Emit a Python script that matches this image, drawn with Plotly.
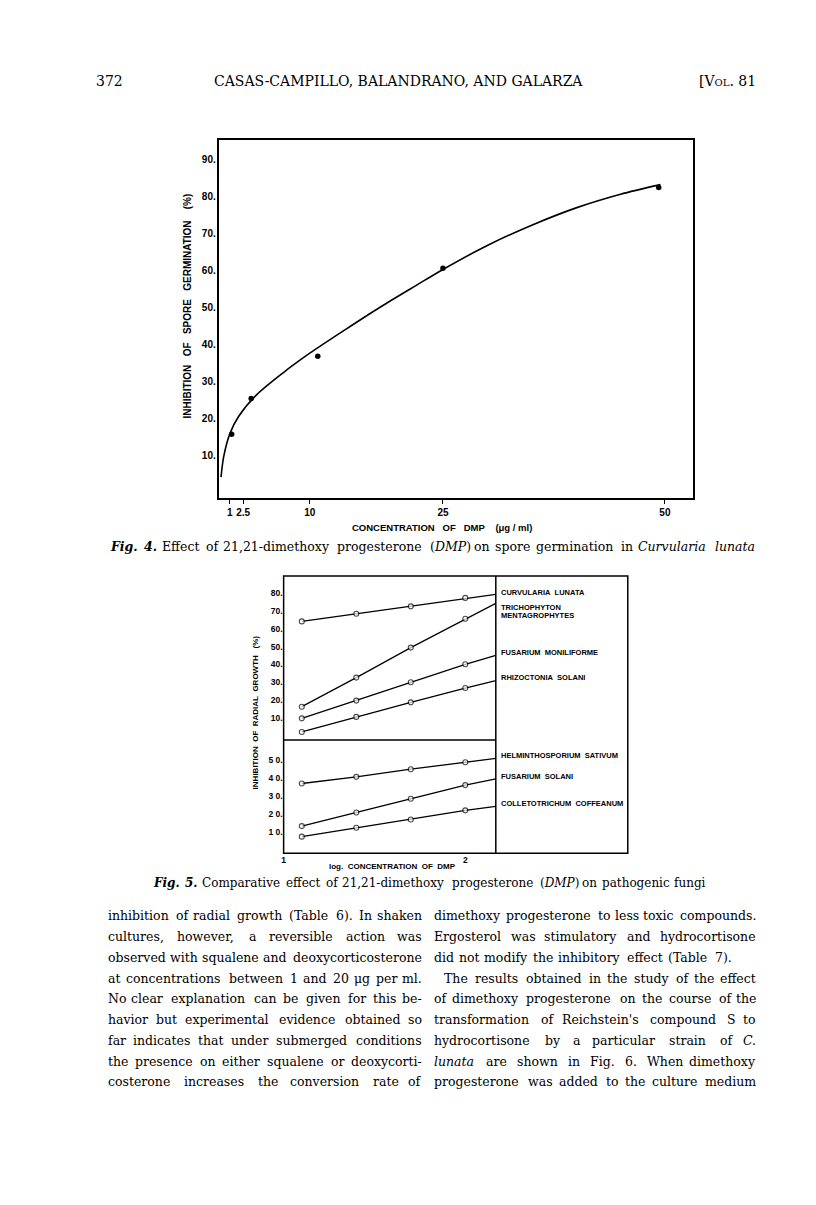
import re
import plotly.graph_objects as go

W, H = 816, 1205
OFF = 8  # the page body margin shifts the plot div

# ---- Fig. 4: inhibition of spore germination (Curvularia lunata) ----
dmp_ug_ml = [1.2, 3.4, 10.9, 25.0, 49.3]
spore_inhibition = [15.6, 25.3, 36.8, 60.6, 82.5]
# hand drawn curve through the points
curve_ug_ml = [0, 0.3, 1, 2, 4, 7, 10, 14, 18, 22, 25, 30, 35, 40, 45, 49.5]
curve_inhibition = [4, 9.5, 15.8, 20.5, 26.3, 32.3, 37.6, 44.0, 50.2, 56.0, 60.3, 66.8, 72.3, 77.0, 80.7, 83.3]
fig4_xtick_vals = [1, 2.5, 10, 25, 50]
fig4_xtick_text = ["1", "2.5", "10", "25", "50"]
fig4_ytick_vals = [10, 20, 30, 40, 50, 60, 70, 80, 90]

# ---- Fig. 5: inhibition of radial growth vs log concentration ----
log_conc = [1.1, 1.4, 1.7, 2.0]
log_conc_edge = 2.168  # lines run on to the divider
upper_fungi = ["CURVULARIA  LUNATA", "TRICHOPHYTON", "MENTAGROPHYTES", "FUSARIUM  MONILIFORME", "RHIZOCTONIA  SOLANI"]
upper_growth = [
    [64.0, 68.3, 72.4, 77.1],
    [16.5, 32.7, 49.4, 65.5],
    [10.0, 19.9, 30.1, 40.1],
    [2.4, 10.8, 18.9, 26.9],
]
upper_growth_edge = [79.1, 74.1, 45.1, 31.0]
lower_fungi = ["HELMINTHOSPORIUM  SATIVUM", "FUSARIUM  SOLANI", "COLLETOTRICHUM  COFFEANUM"]
lower_growth = [
    [37.0, 40.7, 45.0, 48.9],
    [13.2, 20.8, 28.5, 36.1],
    [7.3, 12.3, 16.9, 22.0],
]
lower_growth_edge = [51.0, 39.6, 24.2]
upper_yticks = [10, 20, 30, 40, 50, 60, 70, 80]
lower_yticks = [10, 20, 30, 40, 50]
fig5_xticks = [1, 2]

# ---- page text ----
header_title = "CASAS-CAMPILLO, BALANDRANO, AND GALARZA"
caption4 = ("<b><i>Fig.</i></b> <b><i>4.</i></b> Effect of 21,21-dimethoxy progesterone "
            "(<i>DMP</i>) on spore germination in <i>Curvularia</i> <i>lunata</i>")
caption5 = ("<b><i>Fig.</i></b> <b><i>5.</i></b> Comparative effect of 21,21-dimethoxy "
            "progesterone (<i>DMP</i>) on pathogenic fungi")
left_column = [
    "inhibition of radial growth (Table 6). In shaken",
    "cultures, however, a reversible action was",
    "observed with squalene and deoxycorticosterone",
    "at concentrations between 1 and 20 μg per ml.",
    "No clear explanation can be given for this be-",
    "havior but experimental evidence obtained so",
    "far indicates that under submerged conditions",
    "the presence on either squalene or deoxycorti-",
    "costerone increases the conversion rate of",
]
right_column = [
    "dimethoxy progesterone to less toxic compounds.",
    "Ergosterol was stimulatory and hydrocortisone",
    "did not modify the inhibitory effect (Table 7).",
    "The results obtained in the study of the effect",
    "of dimethoxy progesterone on the course of the",
    "transformation of Reichstein's compound S to",
    "hydrocortisone by a particular strain of <i>C.</i>",
    "<i>lunata</i> are shown in Fig. 6. When dimethoxy",
    "progesterone was added to the culture medium",
]

SERIF = "DejaVu Serif"
SANS = "Liberation Sans"
BODY = 12.5

# rough DejaVu Serif advance widths (em)
WIDTHS = {' ': .318, 'a': .596, 'b': .640, 'c': .560, 'd': .640, 'e': .592, 'f': .370, 'g': .640,
          'h': .644, 'i': .320, 'j': .310, 'k': .606, 'l': .320, 'm': .948, 'n': .644, 'o': .602,
          'p': .640, 'q': .640, 'r': .478, 's': .513, 't': .402, 'u': .644, 'v': .565, 'w': .856,
          'x': .564, 'y': .565, 'z': .527, '.': .318, ',': .318, '(': .390, ')': .390, '-': .338,
          "'": .275, 'μ': .644, 'I': .40}


def px(x):
    return (x - OFF) / W


def py(y):
    return 1 - (y - OFF) / H


def text_width(s, size):
    scale = 1.04
    if "<b>" in s:
        scale *= 1.12
    elif "<i>" in s:
        scale *= 1.03
    s = re.sub(r"<[^>]+>", "", s)
    total = 0
    for ch in s:
        if ch in WIDTHS:
            total += WIDTHS[ch]
        elif ch.isdigit():
            total += .636
        elif ch.isupper():
            total += .73
        else:
            total += .6
    return total * size * scale


annotations = []


def justify(line, left, right, y, size=BODY, indent=0, ragged=False):
    words = line.split(" ")
    widths = [text_width(w, size) for w in words]
    if ragged or len(words) == 1:
        gap = text_width(" ", size)
    else:
        gap = (right - left - indent - sum(widths)) / (len(words) - 1)
    x = left + indent
    for i, (w, wd) in enumerate(zip(words, widths)):
        last = i == len(words) - 1 and not ragged and len(words) > 1
        annotations.append(dict(
            x=px(right) if last else px(x), y=py(y), xref="paper", yref="paper",
            xanchor="right" if last else "left", yanchor="middle", text=w, showarrow=False,
            borderpad=0, font=dict(family=SERIF, size=size, color="black"),
        ))
        x += wd + gap


def label(text, x, y, size=8, anchor="left", angle=0):
    annotations.append(dict(
        x=px(x), y=py(y), xref="paper", yref="paper", xanchor=anchor, yanchor="middle",
        text=text.replace(" ", "\u00a0"), showarrow=False, textangle=angle, borderpad=0,
        font=dict(family=SANS, size=size, color="black", weight="bold"),
    ))


fig = go.Figure()

# Fig. 4 traces
fig.add_trace(go.Scatter(
    x=curve_ug_ml, y=curve_inhibition, mode="lines",
    line=dict(color="black", width=1.6, shape="spline", smoothing=0.8),
    xaxis="x", yaxis="y", hoverinfo="skip",
))
fig.add_trace(go.Scatter(
    x=dmp_ug_ml, y=spore_inhibition, mode="markers",
    marker=dict(color="black", size=5.5), xaxis="x", yaxis="y",
))

# Fig. 5 traces
for vals, edge in zip(upper_growth, upper_growth_edge):
    fig.add_trace(go.Scatter(
        x=log_conc + [log_conc_edge], y=vals + [edge], mode="lines+markers",
        line=dict(color="black", width=1.3),
        marker=dict(size=[5] * 4 + [0], color="white", line=dict(color="black", width=[1.1] * 4 + [0])),
        xaxis="x2", yaxis="y2", cliponaxis=False,
    ))
for vals, edge in zip(lower_growth, lower_growth_edge):
    fig.add_trace(go.Scatter(
        x=log_conc + [log_conc_edge], y=vals + [edge], mode="lines+markers",
        line=dict(color="black", width=1.3),
        marker=dict(size=[5] * 4 + [0], color="white", line=dict(color="black", width=[1.1] * 4 + [0])),
        xaxis="x3", yaxis="y3", cliponaxis=False,
    ))

tick_font = dict(family=SANS, size=10, color="black", weight="bold")
small_tick_font = dict(family=SANS, size=8.5, color="black", weight="bold")
x5_dom = [px(282.3), px(495)]

fig.update_layout(
    width=W, height=H, autosize=False, margin=dict(l=0, r=0, t=0, b=0),
    paper_bgcolor="white", plot_bgcolor="white", showlegend=False,
    xaxis=dict(domain=[px(218), px(693)], range=[-0.17, 53.2], anchor="y",
               showline=True, mirror=True, linecolor="black", linewidth=1.5,
               showgrid=False, zeroline=False, ticks="outside", ticklen=4, tickwidth=1.2,
               tickcolor="black", tickvals=fig4_xtick_vals, ticktext=fig4_xtick_text, tickfont=tick_font),
    yaxis=dict(domain=[py(498), py(140)], range=[-1.65, 95.4], anchor="x",
               showline=True, mirror=True, linecolor="black", linewidth=1.5,
               showgrid=False, zeroline=False, ticks="",
               tickvals=fig4_ytick_vals, ticktext=[f"{v}." for v in fig4_ytick_vals], tickfont=tick_font),
    xaxis2=dict(domain=x5_dom, range=[1, log_conc_edge], anchor="y2", visible=False),
    yaxis2=dict(domain=[py(740), py(576)], range=[-2.06, 89.3], anchor="x2",
                showline=False, showgrid=False, zeroline=False, ticks="",
                tickvals=upper_yticks, ticktext=[f"{v}." for v in upper_yticks], tickfont=small_tick_font),
    xaxis3=dict(domain=x5_dom, range=[1, log_conc_edge], anchor="y3",
                showline=False, showgrid=False, zeroline=False, ticks="",
                tickvals=fig5_xticks, ticktext=[str(v) for v in fig5_xticks], tickfont=small_tick_font),
    yaxis3=dict(domain=[py(853.3), py(740)], range=[-2.0, 61.3], anchor="x3",
                showline=False, showgrid=False, zeroline=False, ticks="",
                tickvals=lower_yticks, ticktext=[" ".join(str(v)) + "." for v in lower_yticks],
                tickfont=small_tick_font),
)

# Fig. 5 frame
box = dict(color="black", width=1.5)
fig.add_shape(type="rect", xref="paper", yref="paper", x0=px(282.3), x1=px(627.3), y0=py(853.3), y1=py(576), line=box)
fig.add_shape(type="line", xref="paper", yref="paper", x0=px(495), x1=px(495), y0=py(853.3), y1=py(576), line=box)
fig.add_shape(type="line", xref="paper", yref="paper", x0=px(282.3), x1=px(495), y0=py(740), y1=py(740), line=box)

# axis titles
label("INHIBITION   OF   SPORE   GERMINATION    (%)", 185, 306, size=10, anchor="center", angle=-90)
label("CONCENTRATION   OF   DMP    (μg / ml)", 441, 527, size=9.5, anchor="center")
label("INHIBITION  OF  RADIAL  GROWTH   (%)", 254, 712, size=8, anchor="center", angle=-90)
label("log.  CONCENTRATION  OF  DMP", 391, 866, size=8, anchor="center")

# series labels in the right panel of Fig. 5
upper_label_y = [592.7, 607, 615.5, 652, 677.7]
lower_label_y = [755.7, 776, 803]
for name, y in zip(upper_fungi + lower_fungi, upper_label_y + lower_label_y):
    label(name, 499.5, y, size=7.5)

# running head
serif14 = dict(family=SERIF, size=14, color="black")
annotations.append(dict(x=px(93), y=py(81), xref="paper", yref="paper", xanchor="left", yanchor="middle",
                        text="372", showarrow=False, borderpad=0, font=serif14))
annotations.append(dict(x=px(397), y=py(81), xref="paper", yref="paper", xanchor="center", yanchor="middle",
                        text=header_title, showarrow=False, borderpad=0,
                        font=dict(family=SERIF, size=14, color="black")))
annotations.append(dict(x=px(757), y=py(81), xref="paper", yref="paper", xanchor="right", yanchor="middle",
                        text="[V<span style='font-size:10px'>OL</span>. 81", showarrow=False, borderpad=0,
                        font=serif14))

# captions
justify(caption4, 107, 756, 546, size=12.5)
justify(caption5, 150, 707, 883, size=12)

# body text, two justified columns
line_y = [915, 936, 957, 978, 998, 1019, 1040, 1061, 1081]
for line, y in zip(left_column, line_y):
    justify(line, 105, 422, y)
for i, (line, y) in enumerate(zip(right_column, line_y)):
    justify(line, 432, 757, y, indent=10 if i == 3 else 0, ragged=(i == 2))

fig.update_layout(annotations=annotations)
fig.write_html("out.html")
